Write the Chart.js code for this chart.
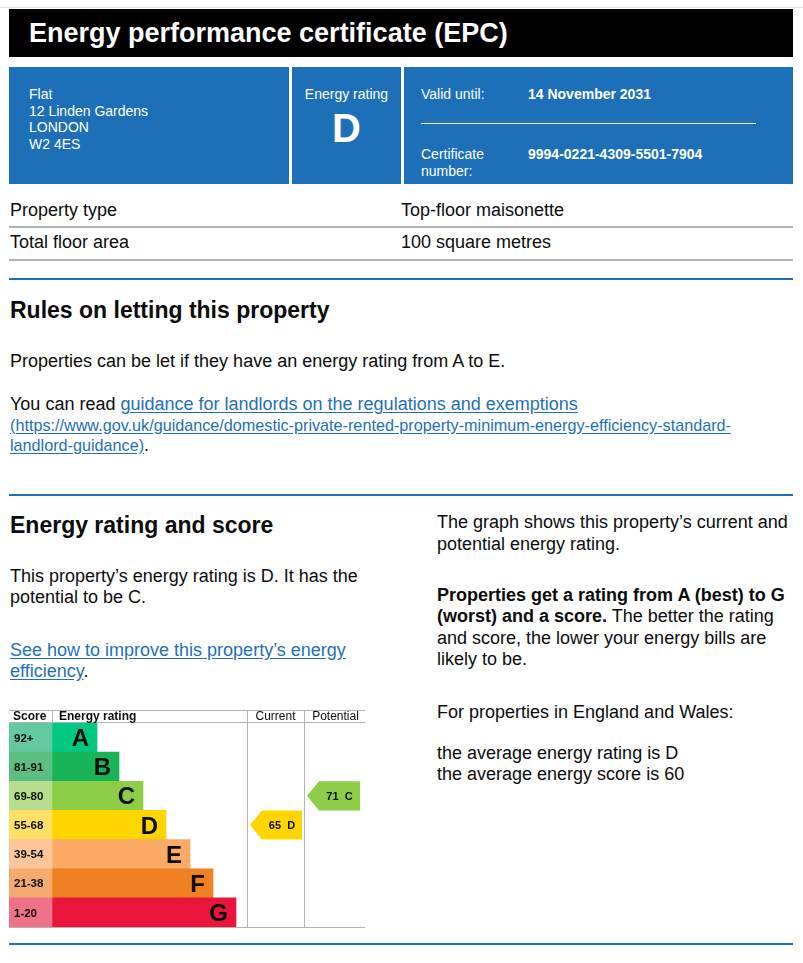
<!DOCTYPE html>
<html lang="en">
<head>
<meta charset="utf-8">
<title>Energy performance certificate (EPC)</title>
<script src="https://cdn.jsdelivr.net/npm/chart.js"></script>
<style>
    body {
        margin: 0;
        width: 803px;
        height: 963px;
        position: relative;
        overflow: hidden;
        background: #fff;
        color: #0b0c0c;
        font-family: "Liberation Sans", Arial, sans-serif;
    }
    .abs { position: absolute; }
    .topline { left: 0; top: 7px; width: 803px; height: 1px; background: #e2e2e2; }
    .title {
        left: 9px; top: 9px; width: 764px; height: 48px; padding-left: 20px;
        background: #000; color: #fff; font-size: 27px; font-weight: bold; line-height: 48px;
    }
    .blue { top: 67px; height: 117px; background: #1d70b8; color: #fff; font-size: 14px; line-height: 16.5px; }
    .rule-grey { left: 9px; width: 784px; height: 2px; background: #b1b4b6; }
    .rule-blue { left: 9px; width: 784px; height: 2px; background: #1d70b8; }
    .t18 { font-size: 18px; line-height: 21.5px; }
    .h2 { font-size: 23px; font-weight: bold; line-height: 27.6px; }
    a { color: #1d70b8; text-decoration: underline; text-underline-offset: 2px; }
    .url { font-size: 16.2px; }
    #chartBox { left: 9px; top: 710px; width: 356px; height: 218px; }
</style>
</head>
<body>
<div class="abs topline"></div>
<div class="abs title">Energy performance certificate (EPC)</div>

<!-- blue summary boxes -->
<div class="abs blue" style="left:9px; width:280px;">
    <div class="abs" style="left:20px; top:19px;">Flat<br>12 Linden Gardens<br>LONDON<br>W2 4ES</div>
</div>
<div class="abs blue" style="left:292px; width:109px; text-align:center;">
    <div class="abs" style="left:0; top:19px; width:109px;">Energy rating</div>
    <div class="abs" style="left:0; top:38px; width:109px; font-size:40px; font-weight:bold; line-height:46px;">D</div>
</div>
<div class="abs blue" style="left:404px; width:389px;">
    <div class="abs" style="left:17px; top:19px;">Valid until:</div>
    <div class="abs" style="left:124px; top:19px; font-weight:bold;">14 November 2031</div>
    <div class="abs" style="left:17px; top:56px; width:335px; height:1px; background:#fff;"></div>
    <div class="abs" style="left:17px; top:79px;">Certificate<br>number:</div>
    <div class="abs" style="left:124px; top:79px; font-weight:bold;">9994-0221-4309-5501-7904</div>
</div>

<!-- property table -->
<div class="abs t18" style="left:10px; top:200px;">Property type</div>
<div class="abs t18" style="left:401px; top:200px;">Top-floor maisonette</div>
<div class="abs rule-grey" style="top:226px;"></div>
<div class="abs t18" style="left:10px; top:232px;">Total floor area</div>
<div class="abs t18" style="left:401px; top:232px;">100 square metres</div>
<div class="abs rule-grey" style="top:259px;"></div>

<div class="abs rule-blue" style="top:278px;"></div>
<div class="abs h2" style="left:10px; top:297px;">Rules on letting this property</div>
<div class="abs t18" style="left:10px; top:351px;">Properties can be let if they have an energy rating from A to E.</div>
<div class="abs t18" style="left:10px; top:394px; line-height:20.5px;">You can read <a href="#">guidance for landlords on the regulations and exemptions</a><br><a href="#" class="url">(https://www.gov.uk/guidance/domestic-private-rented-property-minimum-energy-efficiency-standard-<br>landlord-guidance)</a>.</div>

<div class="abs rule-blue" style="top:494px;"></div>
<div class="abs h2" style="left:10px; top:512px;">Energy rating and score</div>
<div class="abs t18" style="left:10px; top:566px; line-height:21px;">This property’s energy rating is D. It has the<br>potential to be C.</div>
<div class="abs t18" style="left:10px; top:640px; line-height:20.5px;"><a href="#">See how to improve this property’s energy<br>efficiency</a>.</div>

<div class="abs t18" style="left:437px; top:512px;">The graph shows this property’s current and<br>potential energy rating.</div>
<div class="abs t18" style="left:437px; top:585px; line-height:21.3px;"><b>Properties get a rating from A (best) to G<br>(worst) and a score.</b> The better the rating<br>and score, the lower your energy bills are<br>likely to be.</div>
<div class="abs t18" style="left:437px; top:702px;">For properties in England and Wales:</div>
<div class="abs t18" style="left:437px; top:743px; line-height:20.5px;">the average energy rating is D<br>the average energy score is 60</div>

<div class="abs" id="chartBox"><canvas id="epcChart"></canvas></div>

<div class="abs rule-blue" style="top:943px;"></div>

<script>
    // rating bands, top (best) to bottom (worst)
    const bands = ['A', 'B', 'C', 'D', 'E', 'F', 'G'];
    const scoreRanges = ['92+', '81-91', '69-80', '55-68', '39-54', '21-38', '1-20'];
    const bandMinScores = [92, 81, 69, 55, 39, 21, 1];
    const bandBarLengths = [45, 67, 91, 114, 138, 161, 184];
    const bandColours = ['#00c781', '#19b459', '#8dce46', '#ffd500', '#fcaa65', '#ef8023', '#e9153b'];
    const scoreColours = ['#64c8a0', '#5cbf82', '#b6de8c', '#ffe066', '#fdc69a', '#f5ab70', '#f07289'];
    const columnHeaders = ['Score', 'Energy rating', 'Current', 'Potential'];
    const currentScore = 65;
    const potentialScore = 71;

    // column layout of the table (x units = px)
    const SCORE_W = 43;
    const CURRENT_X = 238;
    const POTENTIAL_X = 295;
    const TABLE_W = 356;
    const FONT = '"Liberation Sans", Arial, sans-serif';

    function bandIndexOf(score) {
        for (let i = 0; i < bandMinScores.length; i++) {
            if (score >= bandMinScores[i]) return i;
        }
        return bands.length - 1;
    }

    const epcTable = {
        id: 'epcTable',
        afterDatasetsDraw(chart) {
            const ctx = chart.ctx;
            const x = chart.scales.x;
            const y = chart.scales.y;
            const top = 0;
            const headBottom = chart.chartArea.top;
            const bottom = chart.chartArea.bottom;
            const rowH = y.getPixelForValue(1) - y.getPixelForValue(0);
            const px = v => Math.round(x.getPixelForValue(v)) + 0.5;

            ctx.save();
            // grid lines
            ctx.strokeStyle = '#b1b4b6';
            ctx.lineWidth = 1;
            ctx.beginPath();
            ctx.moveTo(x.getPixelForValue(0), top + 0.5);
            ctx.lineTo(x.getPixelForValue(TABLE_W), top + 0.5);
            ctx.moveTo(x.getPixelForValue(0), headBottom - 0.5);
            ctx.lineTo(x.getPixelForValue(TABLE_W), headBottom - 0.5);
            ctx.moveTo(x.getPixelForValue(0), bottom + 0.5);
            ctx.lineTo(x.getPixelForValue(TABLE_W), bottom + 0.5);
            ctx.moveTo(px(SCORE_W), top);
            ctx.lineTo(px(SCORE_W), headBottom);
            ctx.moveTo(px(CURRENT_X), top);
            ctx.lineTo(px(CURRENT_X), bottom + 1);
            ctx.moveTo(px(POTENTIAL_X), top);
            ctx.lineTo(px(POTENTIAL_X), bottom + 1);
            ctx.stroke();

            // header
            ctx.fillStyle = '#0b0c0c';
            ctx.font = 'bold 12px ' + FONT;
            ctx.textBaseline = 'middle';
            const hy = headBottom / 2 + 0.5;
            ctx.textAlign = 'left';
            ctx.fillText(columnHeaders[0], x.getPixelForValue(4), hy);
            ctx.fillText(columnHeaders[1], x.getPixelForValue(SCORE_W + 7), hy);
            ctx.textAlign = 'center';
            ctx.font = '12px ' + FONT;
            ctx.fillText(columnHeaders[2], x.getPixelForValue((CURRENT_X + POTENTIAL_X) / 2), hy);
            ctx.fillText(columnHeaders[3], x.getPixelForValue((POTENTIAL_X + TABLE_W) / 2) + 1, hy);

            // score ranges and band letters
            bands.forEach((b, i) => {
                const yc = y.getPixelForValue(i);
                ctx.textAlign = 'left';
                ctx.font = 'bold 11.5px ' + FONT;
                ctx.fillText(scoreRanges[i], x.getPixelForValue(0) + 5, yc + 1);
                ctx.textAlign = 'right';
                ctx.font = 'bold 24px ' + FONT;
                ctx.fillText(b, x.getPixelForValue(SCORE_W + bandBarLengths[i]) - 8, yc + 2);
            });

            // current / potential arrows
            function arrow(score, left, right) {
                const i = bandIndexOf(score);
                const yc = y.getPixelForValue(i);
                const l = x.getPixelForValue(left);
                const r = x.getPixelForValue(right);
                const h = rowH;
                const tip = 12;
                ctx.fillStyle = bandColours[i];
                ctx.beginPath();
                ctx.moveTo(l, yc);
                ctx.lineTo(l + tip, yc - h / 2);
                ctx.lineTo(r, yc - h / 2);
                ctx.lineTo(r, yc + h / 2);
                ctx.lineTo(l + tip, yc + h / 2);
                ctx.closePath();
                ctx.fill();
                ctx.fillStyle = '#0b0c0c';
                ctx.font = 'bold 11px ' + FONT;
                ctx.textAlign = 'center';
                ctx.fillText(score + '  ' + bands[i], (l + tip + r) / 2, yc + 1);
            }
            arrow(currentScore, CURRENT_X + 3, POTENTIAL_X - 2);
            arrow(potentialScore, POTENTIAL_X + 3, POTENTIAL_X + 56);
            ctx.restore();
        }
    };

    new Chart(document.getElementById('epcChart'), {
        type: 'bar',
        data: {
            labels: bands,
            datasets: [{
                label: 'Score',
                data: bands.map(() => [0, SCORE_W]),
                backgroundColor: scoreColours,
                grouped: false,
                barPercentage: 1,
                categoryPercentage: 1
            }, {
                label: 'Energy rating',
                data: bandBarLengths.map(l => [SCORE_W, SCORE_W + l]),
                backgroundColor: bandColours,
                grouped: false,
                barPercentage: 1,
                categoryPercentage: 1
            }]
        },
        options: {
            indexAxis: 'y',
            responsive: true,
            maintainAspectRatio: false,
            animation: false,
            layout: { padding: { top: 13, bottom: 1, left: 0, right: 0 } },
            scales: {
                x: { type: 'linear', min: 0, max: TABLE_W, display: false },
                y: { display: false }
            },
            plugins: {
                legend: { display: false },
                tooltip: { enabled: false }
            }
        },
        plugins: [epcTable]
    });
</script>
</body>
</html>
